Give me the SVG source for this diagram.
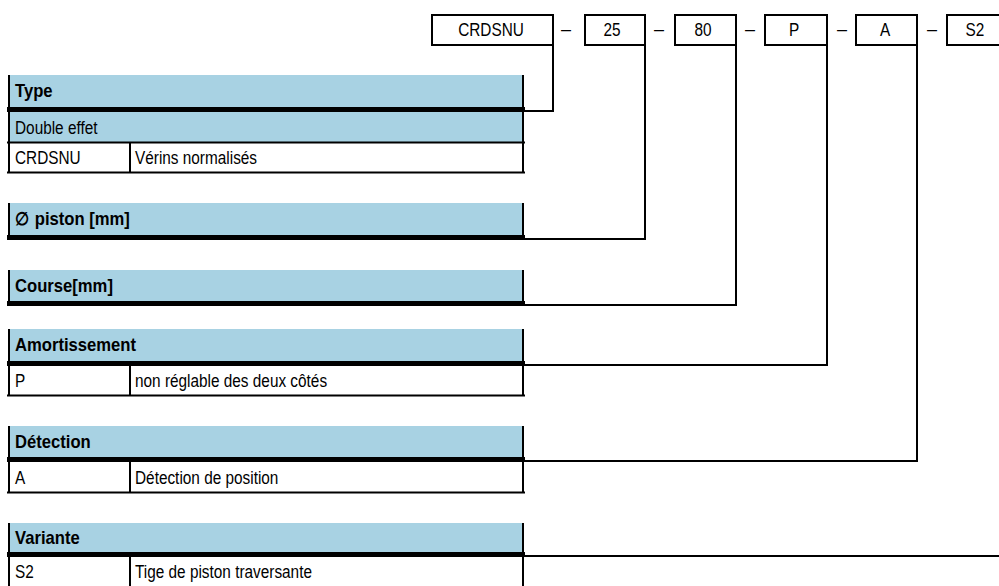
<svg xmlns="http://www.w3.org/2000/svg" width="999" height="586" viewBox="0 0 999 586">
<style>
text{font-family:"Liberation Sans",Arial,sans-serif;font-size:18.5px;fill:#000}
.b{font-weight:bold}
.code{text-anchor:middle}
.dash{text-anchor:middle;font-size:18px}
.box{fill:#fff;stroke:#000;stroke-width:2}
.hd{fill:#a8d2e3}
.bar{fill:#000}
.ln{stroke:#000;stroke-width:2;fill:none}
.conn{stroke:#000;stroke-width:2;fill:none}
</style>
<rect width="999" height="586" fill="#fff"/>
<g id="code">
<g id="c-crdsnu"><rect class="box" x="432" y="15" width="121" height="30"/><text class="code" transform="translate(491 36) scale(.83 1)">CRDSNU</text></g>
<text class="dash" x="566" y="35">–</text>
<g id="c-25"><rect class="box" x="585" y="15" width="60" height="30"/><text class="code" transform="translate(612 36) scale(.83 1)">25</text></g>
<text class="dash" x="659" y="35">–</text>
<g id="c-80"><rect class="box" x="675" y="15" width="61" height="30"/><text class="code" transform="translate(703 36) scale(.83 1)">80</text></g>
<text class="dash" x="750" y="35">–</text>
<g id="c-p"><rect class="box" x="765" y="15" width="62" height="30"/><text class="code" transform="translate(794 36) scale(.83 1)">P</text></g>
<text class="dash" x="842" y="35">–</text>
<g id="c-a"><rect class="box" x="856" y="15" width="61" height="30"/><text class="code" transform="translate(885 36) scale(.83 1)">A</text></g>
<text class="dash" x="932" y="35">–</text>
<g id="c-s2"><rect class="box" x="947" y="15" width="61" height="30"/><text class="code" transform="translate(975 36) scale(.83 1)">S2</text></g>
</g>
<g id="connectors">
<polyline class="conn" points="553,45 553,111 523,111"/>
<polyline class="conn" points="645,45 645,239 523,239"/>
<polyline class="conn" points="736,45 736,305 523,305"/>
<polyline class="conn" points="827,45 827,365 523,365"/>
<polyline class="conn" points="917,45 917,461 523,461"/>
<polyline class="conn" points="1008,45 1008,556 523,556"/>
</g>
<g id="t-type">
<rect class="hd" x="9" y="75" width="514" height="32"/>
<rect class="bar" x="7" y="107" width="518" height="5"/>
<rect class="hd" x="9" y="112" width="514" height="30"/>
<path class="ln" d="M9,75V173M523,75V173M7,142.5H525M7,172.5H525M130,143V173"/>
<text class="b" transform="translate(15 97) scale(.9 1)">Type</text>
<text transform="translate(15 134) scale(.83 1)">Double effet</text>
<text transform="translate(15 164) scale(.83 1)">CRDSNU</text>
<text transform="translate(135 164) scale(.83 1)">Vérins normalisés</text>
</g>
<g id="t-piston">
<rect class="hd" x="9" y="203" width="514" height="32"/>
<rect class="bar" x="7" y="235" width="518" height="5"/>
<path class="ln" d="M9,203V235M523,203V235"/>
<text class="b" transform="translate(15 225) scale(.9 1)">∅ piston [mm]</text>
</g>
<g id="t-course">
<rect class="hd" x="9" y="270" width="514" height="31"/>
<rect class="bar" x="7" y="301" width="518" height="5"/>
<path class="ln" d="M9,270V301M523,270V301"/>
<text class="b" transform="translate(15 292) scale(.9 1)">Course[mm]</text>
</g>
<g id="t-amort">
<rect class="hd" x="9" y="329" width="514" height="32"/>
<rect class="bar" x="7" y="361" width="518" height="5"/>
<path class="ln" d="M9,329V396M523,329V396M7,395.5H525M130,366V396"/>
<text class="b" transform="translate(15 351) scale(.9 1)">Amortissement</text>
<text transform="translate(15 387) scale(.83 1)">P</text>
<text transform="translate(135 387) scale(.83 1)">non réglable des deux côtés</text>
</g>
<g id="t-detect">
<rect class="hd" x="9" y="426" width="514" height="31"/>
<rect class="bar" x="7" y="457" width="518" height="5"/>
<path class="ln" d="M9,426V493M523,426V493M7,492.5H525M130,462V493"/>
<text class="b" transform="translate(15 448) scale(.9 1)">Détection</text>
<text transform="translate(15 484) scale(.83 1)">A</text>
<text transform="translate(135 484) scale(.83 1)">Détection de position</text>
</g>
<g id="t-variante">
<rect class="hd" x="9" y="523" width="514" height="29"/>
<rect class="bar" x="7" y="552" width="518" height="5"/>
<path class="ln" d="M9,523V588M523,523V588M7,587H525M130,557V588"/>
<text class="b" transform="translate(15 544) scale(.9 1)">Variante</text>
<text transform="translate(15 578) scale(.83 1)">S2</text>
<text transform="translate(135 578) scale(.83 1)">Tige de piston traversante</text>
</g>
</svg>
